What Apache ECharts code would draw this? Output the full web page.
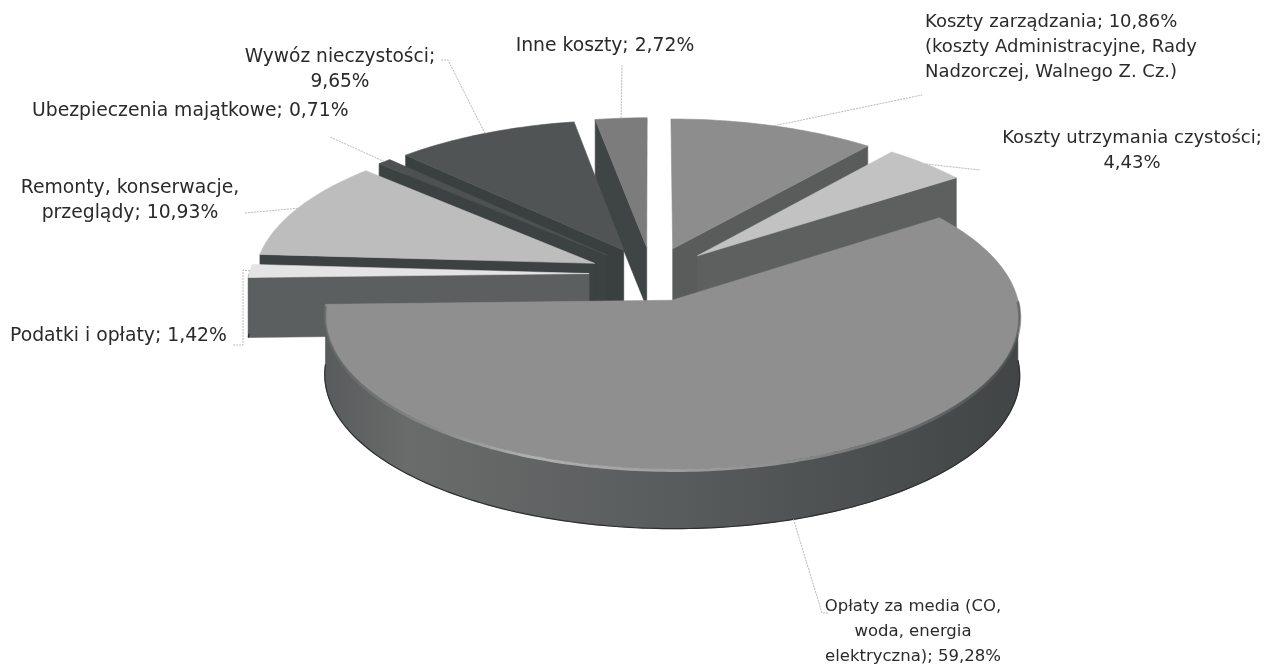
<!DOCTYPE html>
<html>
<head>
<meta charset="utf-8">
<title>Struktura kosztów</title>
<script src="https://cdn.jsdelivr.net/npm/echarts@6/dist/echarts.min.js"></script>
<style>
  html, body { margin: 0; padding: 0; background: #fff; }
  #chart { width: 1266px; height: 666px; }
</style>
</head>
<body>
<div id="chart"></div>
<script>
// Cost shares in percent, clockwise from twelve o'clock
const categories = ['Koszty zarządzania', 'Koszty utrzymania czystości', 'Opłaty za media', 'Podatki i opłaty',
  'Remonty, konserwacje, przeglądy', 'Ubezpieczenia majątkowe', 'Wywóz nieczystości', 'Inne koszty'];
const shares = [10.86, 4.43, 59.28, 1.42, 10.93, 0.71, 9.65, 2.72];
const labelTemplates = [
  'Koszty zarządzania; {v}\n(koszty Administracyjne, Rady\nNadzorczej, Walnego Z. Cz.)',
  'Koszty utrzymania czystości;\n{v}',
  'Opłaty za media (CO,\nwoda, energia\nelektryczna); {v}',
  'Podatki i opłaty; {v}',
  'Remonty, konserwacje,\nprzeglądy; {v}',
  'Ubezpieczenia majątkowe; {v}',
  'Wywóz nieczystości;\n{v}',
  'Inne koszty; {v}'
];

// Slice colours: top face, then radial wall
const topColors = ['#8d8d8d', '#c2c2c2', '#8f8f8f', '#e4e4e4', '#bdbdbd', '#4d5151', '#505454', '#7c7c7c'];
const wallColors = ['#5a5c5c', '#5e6060', '#5a5d5d', '#5b5f5f', '#3c4141', '#3c4141', '#3a3f3f', '#3f4545'];

// Label placement: x, y of the block, alignment, font size, then the leader's bends towards the label
const labelBoxes = [[925, 47, 'left', 18], [1132, 151, 'center', 18], [913, 632, 'center', 16.5], [10, 336, 'left', 18.8],
  [130, 201, 'center', 18.8], [32, 111, 'left', 18.8], [340, 70, 'center', 18.6], [605, 46, 'center', 18.8]];
const leaderBends = [[[922, 95]], [[980, 170]], [[822, 613], [828, 613]], [[243, 270], [243, 345], [232, 345]],
  [[245, 213]], [[330, 137]], [[448, 60], [440, 60]], [[622, 65]]];

// Projection of the tilted disc
const view = { cx: 652, cy: 274, radius: 340, tilt: 0.432, persp: 0.096, burst: 0.185, depth: 60 };
const ARC_STEP = Math.PI / 180;

const total = shares.reduce((a, b) => a + b, 0);
const startAngles = [];
shares.reduce((acc, v, i) => { startAngles[i] = acc / total * 2 * Math.PI; return acc + v; }, 0);
const endAngle = i => startAngles[i] + shares[i] / total * 2 * Math.PI;
const midAngle = i => (startAngles[i] + endAngle(i)) / 2;

function project(u, v, drop) {
  const s = 1 / (1 + view.persp * v);
  return [view.cx + view.radius * u * s, view.cy - view.radius * view.tilt * v * s + view.depth * drop];
}
function slicePoint(i, angle, r, drop) {
  const m = midAngle(i);
  return project(r * Math.sin(angle) + view.burst * Math.sin(m), r * Math.cos(angle) + view.burst * Math.cos(m), drop);
}
function arc(i, a, b, drop) {
  const pts = [];
  const n = Math.max(2, Math.ceil(Math.abs(b - a) / ARC_STEP));
  for (let k = 0; k <= n; k++) pts.push(slicePoint(i, a + (b - a) * k / n, 1, drop));
  return pts;
}
const face = (points, fill) => ({ type: 'polygon', shape: { points }, style: { fill, stroke: fill, lineWidth: 0.6 } });

function renderSlice(params, api) {
  const i = api.value(0);
  const a = startAngles[i], b = endAngle(i);
  const children = [];
  const radialWall = ang => face([
    slicePoint(i, ang, 0, 0), slicePoint(i, ang, 1, 0), slicePoint(i, ang, 1, 1), slicePoint(i, ang, 0, 1)
  ], wallColors[i]);
  if (Math.sin(a) < 0) children.push(radialWall(a));
  if (Math.sin(b) > 0) children.push(radialWall(b));

  // Rim is only seen on the near half of the disc
  const from = Math.max(a, Math.PI / 2), to = Math.min(b, 3 * Math.PI / 2);
  if (to > from) {
    const upper = arc(i, from, to, 0), lower = arc(i, from, to, 1);
    const shade = to - from > 1 ? new echarts.graphic.LinearGradient(0, 0, 1, 0, [
      { offset: 0, color: '#585b5b' }, { offset: 0.12, color: '#6a6c6c' }, { offset: 0.5, color: '#595c5c' },
      { offset: 0.8, color: '#4a4e4e' }, { offset: 1, color: '#414545' }
    ]) : wallColors[i];
    children.push(face(upper.concat(lower.slice().reverse()), shade));
    children.push({ type: 'polyline', shape: { points: lower }, style: { fill: null, stroke: '#2c2f2f', lineWidth: 1.2 } });
  }

  const rim = arc(i, a, b, 0);
  children.push(face([slicePoint(i, a, 0, 0)].concat(rim), topColors[i]));
  if (to - from > 1) {
    // Soft bevel where the top face meets the rim
    children.push({
      type: 'polyline', shape: { points: arc(i, from, to, 0.03) },
      style: { fill: null, lineWidth: 3, stroke: new echarts.graphic.LinearGradient(0, 0, 1, 0, [
        { offset: 0, color: 'rgba(96,98,98,0.7)' }, { offset: 0.3, color: 'rgba(190,190,190,0.85)' },
        { offset: 0.65, color: 'rgba(170,170,170,0.7)' }, { offset: 1, color: 'rgba(80,84,84,0.6)' }
      ]) }
    });
  }
  return { type: 'group', children };
}

function labelText(i) {
  return labelTemplates[i].replace('{v}', shares[i].toFixed(2).replace('.', ',') + '%');
}

function renderLabel(params, api) {
  const i = api.value(0);
  const m = midAngle(i);
  const nearSide = Math.cos(m) < 0;
  const start = slicePoint(i, m, 1, nearSide ? 1 : 0);
  const box = labelBoxes[i];
  return {
    type: 'group',
    children: [
      { type: 'polyline', shape: { points: [start].concat(leaderBends[i]) },
        style: { fill: null, stroke: '#b9b9b9', lineWidth: 1, lineDash: [2, 1] } },
      { type: 'text', style: {
        text: labelText(i), x: box[0], y: box[1], align: box[2], verticalAlign: 'middle',
        font: box[3] + 'px "DejaVu Sans"', lineHeight: 25, fill: '#2a2a2a'
      } }
    ]
  };
}

// Far slices are painted first so the near ones overlap them
const paintOrder = shares.map((_, i) => i).sort((p, q) => Math.cos(midAngle(q)) - Math.cos(midAngle(p)));

const chart = echarts.init(document.getElementById('chart'), null, { renderer: 'canvas' });
chart.setOption({
  animation: false,
  backgroundColor: '#fff',
  series: [
    { type: 'custom', coordinateSystem: 'none', silent: true, renderItem: renderSlice, z: 1,
      data: paintOrder.map(i => ({ name: categories[i], value: [i, shares[i]] })) },
    { type: 'custom', coordinateSystem: 'none', silent: true, renderItem: renderLabel, z: 2,
      data: shares.map((v, i) => ({ name: categories[i], value: [i, v] })) }
  ]
});
</script>
</body>
</html>
